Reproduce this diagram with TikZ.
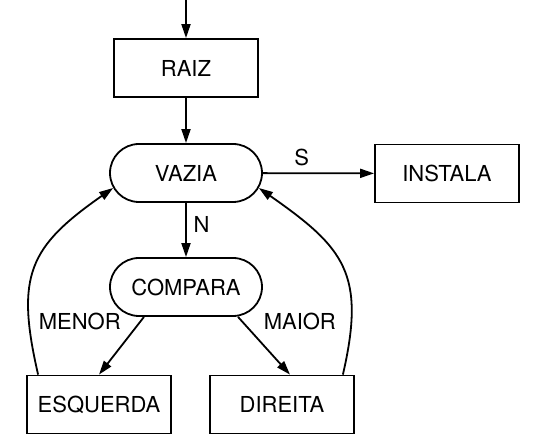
\documentclass[tikz,border=0pt]{standalone}
\usepackage{fontspec}
\setmainfont{TeX Gyre Heros}
\usetikzlibrary{shapes.misc,arrows.meta}

\tikzstyle{bloco}=[rectangle,draw,minimum width=72pt,minimum height=29pt,inner sep=0pt]
\tikzstyle{teste}=[rounded rectangle,draw,minimum width=76pt,minimum height=29pt,inner sep=0pt]

\begin{document}
\begin{tikzpicture}[x=0.5pt,y=0.5pt,line width=0.9pt,>={Triangle[length=7pt,width=4.5pt]},font=\fontsize{11}{13}\selectfont,auto]
\useasboundingbox (0,0) rectangle (543,439);
%\draw[help lines] (0,0) grid[step=50] (543,439);
\node[bloco]   (raiz)    at (186,371)   {RAIZ};
\node[teste]   (vazia)   at (186,266)   {VAZIA};
\node[bloco]   (instala) at (447,265.5) {INSTALA};
\node[teste]   (compara) at (186,152)   {COMPARA};
\node[bloco]   (esq)     at (99,34.5)   {ESQUERDA};
\node[bloco]   (dir)     at (282,34.5)  {DIREITA};
\coordinate    (topo)    at (186,439);
\path[->]
(topo)  edge (raiz)
(raiz)  edge (vazia)
(vazia) edge node[pos=0.35] {S} (instala)
        edge node[pos=0.4] {N} (compara)
([xshift=-21pt]compara.south) edge node[swap,pos=0.35] {MENOR} (esq.north)
([xshift=26pt]compara.south)  edge node[pos=0.35] {MAIOR} ([xshift=4pt]dir.north);
\draw[->] ([xshift=6pt]esq.north west) to[out=103,in=215,looseness=1.3] ([shift={(4,-15)}]vazia.west);
\draw[->] ([xshift=-6pt]dir.north east) to[out=77,in=-35,looseness=1.3] ([shift={(-4,-15)}]vazia.east);
\end{tikzpicture}
\end{document}
